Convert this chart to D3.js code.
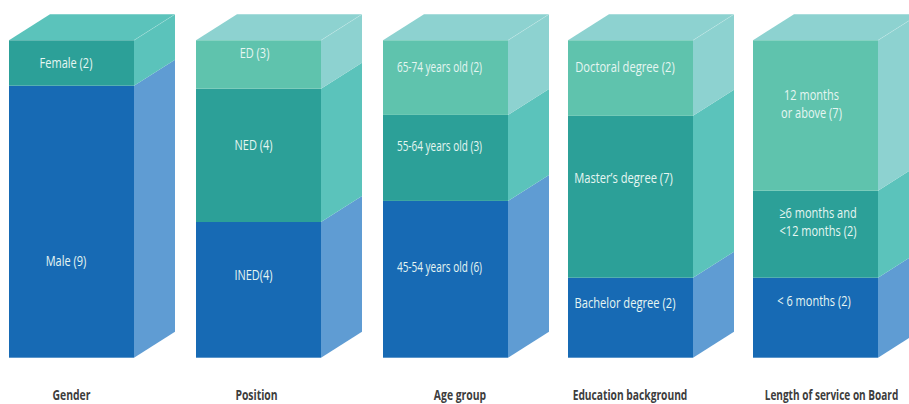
<!DOCTYPE html>
<html><head><meta charset="utf-8">
<script src="https://cdnjs.cloudflare.com/ajax/libs/d3/7.8.5/d3.min.js"></script>
<style>html,body{margin:0;padding:0;background:#fff}svg{display:block}</style>
</head><body><svg id="c" width="909" height="404"></svg>
<script>
// Data: bottom-to-top in every column
const categories = ["Gender","Position","Age group","Education background","Length of service on Board"];
const genderLabels = ["Male (9)","Female (2)"];
const positionLabels = ["INED(4)","NED (4)","ED (3)"];
const ageLabels = ["45-54 years old (6)","55-64 years old (3)","65-74 years old (2)"];
const educationLabels = ["Bachelor degree (2)","Master\u2019s degree (7)","Doctoral degree (2)"];
const serviceLabels = ["< 6 months (2)",["\u22656 months and","<12 months (2)"],["12 months","or above (7)"]];
// Drawn share of each column's height, in percent
const genderShares = [85.7,14.3];
const positionShares = [42.75,42.0,15.25];
const ageShares = [49.4,27.1,23.5];
const educationShares = [25.2,51.0,23.8];
const serviceShares = [25.2,27.4,47.4];

const labels = [genderLabels,positionLabels,ageLabels,educationLabels,serviceLabels];
const shares = [genderShares,positionShares,ageShares,educationShares,serviceShares];

// Layout
const W=125, DX=41, DY=26;
const columnLeft=[9,196,383,568,753];
const titleX=[71.5,256.5,460,630,831.5];
const titleScale=[.77,.77,.77,.76,.745];
const labelX=[[66,66],[253.5,253.5,254.5],[439.5,439.5,439.5],[625,623.5,625],[814,818,811.5]];
const labelY=[[260.5,63],[274.5,144.5,52.5],[266.5,146,66.5],[302.5,178,66.5],[301,222,104]];
const textScale=[.76,.76,.69,.77,.76];
const x=d3.scaleOrdinal().domain(categories).range(columnLeft);
const y=d3.scaleLinear().domain([0,100]).range([357.7,40.3]);
const frontPalette=["#176ab4","#2ca098","#5fc3ad"];
const sidePalette=["#5f9cd3","#5bc3bb","#8dd2d0"];
const svg=d3.select("#c");
const font="'Open Sans','Noto Sans',sans-serif";

categories.forEach((cat,i)=>{
  const g=svg.append("g");
  const x0=x(cat), x1=x0+W;
  const stack=d3.cumsum(shares[i]);
  const segs=shares[i].map((s,j)=>({y0:j?stack[j-1]:0,y1:stack[j],j}));
  const topSide=sidePalette[segs.length-1];
  g.append("path").attr("fill",topSide)
    .attr("d",d3.line()([[x0,y(100)],[x0+DX,y(100)-DY],[x1+DX,y(100)-DY],[x1,y(100)]])+"Z");
  g.selectAll(".side").data(segs).join("path").attr("fill",d=>sidePalette[d.j])
    .attr("d",d=>d3.line()([[x1,y(d.y1)],[x1+DX,y(d.y1)-DY],[x1+DX,y(d.y0)-DY],[x1,y(d.y0)]])+"Z");
  g.selectAll(".front").data(segs).join("rect").attr("fill",d=>frontPalette[d.j])
    .attr("x",x0).attr("width",W).attr("y",d=>y(d.y1)).attr("height",d=>y(d.y0)-y(d.y1));
  g.append("line").attr("x1",x1).attr("y1",y(100)).attr("x2",x1+DX).attr("y2",y(100)-DY)
    .attr("stroke","#ffffff").attr("stroke-opacity",.3).attr("stroke-width",.6);
  labels[i].forEach((t,j)=>{
    const lines=Array.isArray(t)?t:[t];
    const base=labelY[i][j]-(lines.length-1)*9+5;
    const txt=g.append("text").attr("text-anchor","middle")
      .attr("transform",`translate(${labelX[i][j]},${base}) scale(${textScale[i]},1)`)
      .attr("font-family",font).attr("font-size",14.5).attr("fill","#e6f6f2");
    lines.forEach((ln,k)=>txt.append("tspan").attr("x",0).attr("dy",k?18:0).text(ln));
  });
  svg.append("text").text(cat).attr("text-anchor","middle")
    .attr("transform",`translate(${titleX[i]},400) scale(${titleScale[i]},1)`)
    .attr("font-family",font).attr("font-size",13.5).attr("font-weight",700).attr("fill","#3d3d3d");
});
</script></body></html>
